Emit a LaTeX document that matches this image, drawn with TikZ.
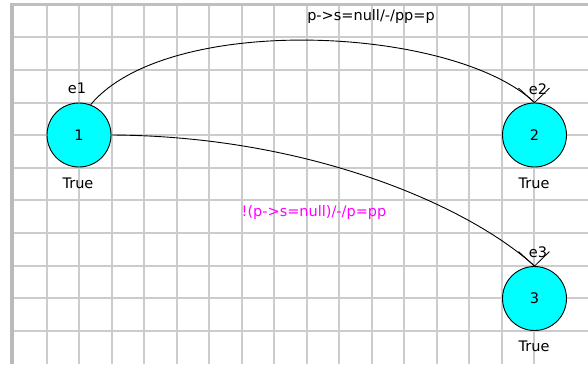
\documentclass[tikz,border=0pt]{standalone}
\usepackage{fontspec}
\setmainfont{DejaVu Sans}
\definecolor{nodecyan}{RGB}{0,255,255}
\definecolor{lblmagenta}{RGB}{255,0,255}
\begin{document}
\begin{tikzpicture}[x=1pt,y=-1pt,
  gridline/.style={draw=black!20,line width=2pt},
  state/.style={circle,draw=black,line width=0.9pt,fill=nodecyan,minimum size=64pt,inner sep=0pt,font=\fontsize{14.5}{16}\selectfont},
  lbl/.style={font=\fontsize{14.5}{16}\selectfont,inner sep=0pt},
  edge/.style={draw=black,line width=0.9pt},
  tip/.style={draw=black,line width=0.8pt}]
\useasboundingbox (0,0) rectangle (588,364);
\fill[white] (0,0) rectangle (588,364);
% grid
\foreach \k in {0,...,15} {\draw[gridline] ({46.7+32.5*\k},3) -- ({46.7+32.5*\k},364);}
\foreach \k in {0,...,9} {\draw[gridline] (10,{37.4+32.6*\k}) -- (588,{37.4+32.6*\k});}
\fill[black!27] (10,3) rectangle (14,364);
\fill[black!25] (10,3) rectangle (588,6);
% states
\node[state] (n1) at (79,135) {1};
\node[state] (n2) at (534.5,135) {2};
\node[state] (n3) at (534.5,298.5) {3};
\node[lbl] (e1) at (77,88) {e1};
\node[lbl] (e2) at (538,89) {e2};
\node[lbl] (e3) at (538,252) {e3};
\node[lbl] (t1) at (78,183) {True};
\node[lbl] (t2) at (534,183) {True};
\node[lbl] (t3) at (534,346) {True};
% edges
\draw[edge] (n1.69) .. controls (168,12) and (454,26) .. (n2.north);
\draw[edge] (n1.east) .. controls (311,136) and (470,207) .. (n3.north);
\draw[tip] (n2.north) -- ++(-16,-14.5);
\draw[tip] (n2.north) -- ++(15,-14.5);
\draw[tip] (n3.north) -- ++(-16,-14.5);
\draw[tip] (n3.north) -- ++(15,-14.5);
\node[lbl] (l12) at (371,16) {p->s=null/-/pp=p};
\node[lbl,text=lblmagenta] (l13) at (314,212) {!(p->s=null)/-/p=pp};
\end{tikzpicture}
\end{document}
